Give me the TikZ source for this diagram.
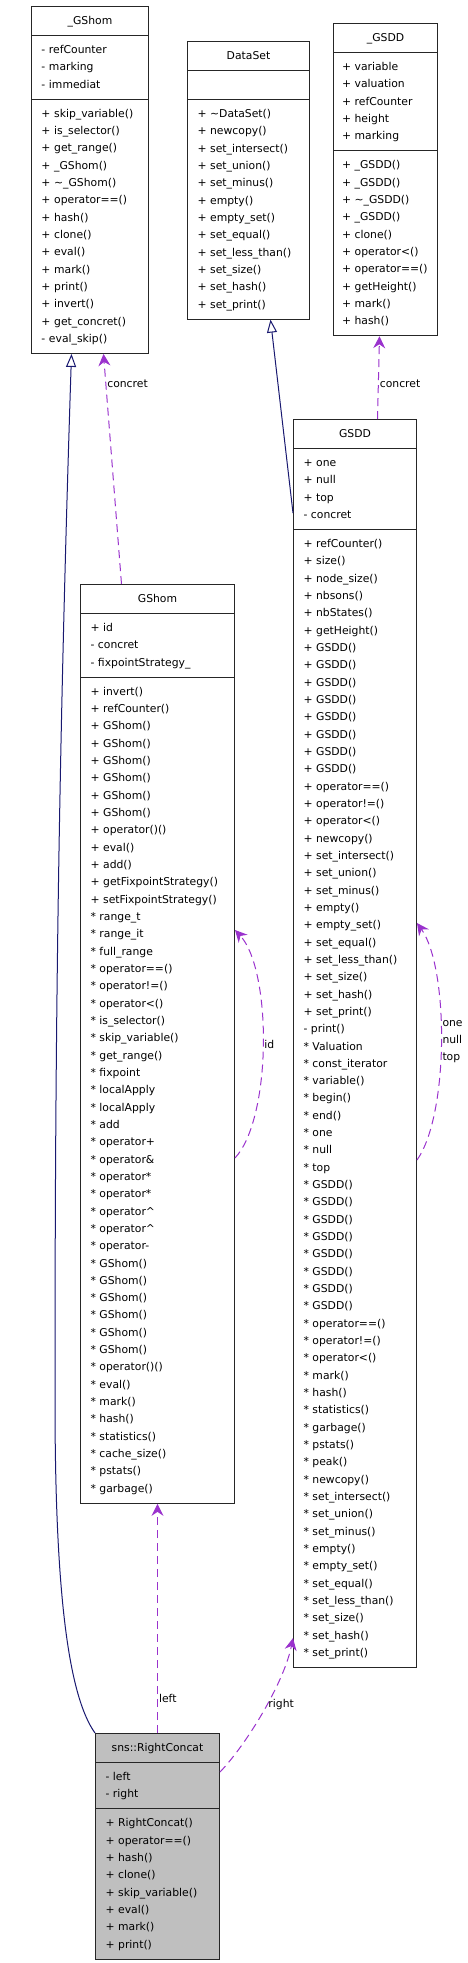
\documentclass[tikz,border=0pt]{standalone}
\usepackage{fontspec}
\setmainfont{DejaVu Sans}
\usepackage{tikz}
\usetikzlibrary{arrows.meta, shapes.multipart}

\definecolor{inhblue}{HTML}{191970}
\definecolor{usepurple}{HTML}{9A32CD}
\definecolor{boxgray}{HTML}{BFBFBF}
\newcommand\clsfont{\fontsize{10.8}{17.33}\selectfont}
\newcommand\mrow{\\\strut}
\newcommand\ctitle[1]{\makebox[\linewidth][c]{\strut#1}}
\hyphenpenalty=10000
\exhyphenpenalty=10000

\begin{document}
\begin{tikzpicture}[x=1pt, y=-1pt, font=\clsfont,
      cls/.style={draw=black!85, line width=1pt, fill=white, rectangle split,
        rectangle split parts=3, anchor=north west, inner xsep=10pt,
        inner ysep=5.33pt, align=left, font=\clsfont},
      inh/.style={draw=inhblue, line width=1pt,
        -{Triangle[open, length=13pt, width=10pt, fill=white]}},
      usage/.style={draw=usepurple, line width=1pt, dash pattern=on 8pt off 5pt,
        -{Stealth[length=12pt, width=12pt, inset=4pt]}},
      lbl/.style={anchor=west, inner sep=1pt, font=\clsfont}]
    \useasboundingbox (0,0) rectangle (467,1963);
    % base classes
    \node[cls, text width=97pt] (gbase) at (31,6) {\ctitle{\_GShom}
      \nodepart{two}\strut - refCounter\mrow - marking\mrow - immediat
      \nodepart{three}\strut + skip\_variable()\mrow + is\_selector()\mrow + get\_range()\mrow
      + \_GShom()\mrow + \textasciitilde\_GShom()\mrow + operator==()\mrow + hash()\mrow
      + clone()\mrow + eval()\mrow + mark()\mrow + print()\mrow + invert()\mrow
      + get\_concret()\mrow - eval\_skip()};
    \node[cls, text width=102pt] (dset) at (187,41) {\ctitle{DataSet}
      \nodepart{two}\strut
      \nodepart{three}\strut + \textasciitilde DataSet()\mrow + newcopy()\mrow + set\_intersect()\mrow
      + set\_union()\mrow + set\_minus()\mrow + empty()\mrow + empty\_set()\mrow
      + set\_equal()\mrow + set\_less\_than()\mrow + set\_size()\mrow + set\_hash()\mrow
      + set\_print()};
    \node[cls, text width=87pt, inner xsep=8.5pt] (gsddbase) at (333,23) {\ctitle{\_GSDD}
      \nodepart{two}\strut + variable\mrow + valuation\mrow + refCounter\mrow + height\mrow + marking
      \nodepart{three}\strut + \_GSDD()\mrow + \_GSDD()\mrow + \textasciitilde\_GSDD()\mrow + \_GSDD()\mrow
      + clone()\mrow + operator<()\mrow + operator==()\mrow + getHeight()\mrow + mark()\mrow
      + hash()};
    % used classes
    \node[cls, text width=134pt] (gshom) at (80,584) {\ctitle{GShom}
      \nodepart{two}\strut + id\mrow - concret\mrow - fixpointStrategy\_
      \nodepart{three}\strut + invert()\mrow + refCounter()\mrow + GShom()\mrow + GShom()\mrow
      + GShom()\mrow + GShom()\mrow + GShom()\mrow + GShom()\mrow + operator()()\mrow
      + eval()\mrow + add()\mrow + getFixpointStrategy()\mrow + setFixpointStrategy()\mrow
      * range\_t\mrow * range\_it\mrow * full\_range\mrow * operator==()\mrow
      * operator!=()\mrow * operator<()\mrow * is\_selector()\mrow * skip\_variable()\mrow
      * get\_range()\mrow * fixpoint\mrow * localApply\mrow * localApply\mrow * add\mrow
      * operator+\mrow * operator\&\mrow * operator*\mrow * operator*\mrow
      * operator\textasciicircum\mrow * operator\textasciicircum\mrow * operator-\mrow
      * GShom()\mrow * GShom()\mrow * GShom()\mrow * GShom()\mrow * GShom()\mrow
      * GShom()\mrow * operator()()\mrow * eval()\mrow * mark()\mrow * hash()\mrow
      * statistics()\mrow * cache\_size()\mrow * pstats()\mrow * garbage()};
    \node[cls, text width=103pt] (gsdd) at (293,419) {\ctitle{GSDD}
      \nodepart{two}\strut + one\mrow + null\mrow + top\mrow - concret
      \nodepart{three}\strut + refCounter()\mrow + size()\mrow + node\_size()\mrow + nbsons()\mrow
      + nbStates()\mrow + getHeight()\mrow + GSDD()\mrow + GSDD()\mrow + GSDD()\mrow
      + GSDD()\mrow + GSDD()\mrow + GSDD()\mrow + GSDD()\mrow + GSDD()\mrow
      + operator==()\mrow + operator!=()\mrow + operator<()\mrow + newcopy()\mrow
      + set\_intersect()\mrow + set\_union()\mrow + set\_minus()\mrow + empty()\mrow
      + empty\_set()\mrow + set\_equal()\mrow + set\_less\_than()\mrow + set\_size()\mrow
      + set\_hash()\mrow + set\_print()\mrow - print()\mrow * Valuation\mrow
      * const\_iterator\mrow * variable()\mrow * begin()\mrow * end()\mrow * one\mrow
      * null\mrow * top\mrow * GSDD()\mrow * GSDD()\mrow * GSDD()\mrow * GSDD()\mrow
      * GSDD()\mrow * GSDD()\mrow * GSDD()\mrow * GSDD()\mrow * operator==()\mrow
      * operator!=()\mrow * operator<()\mrow * mark()\mrow * hash()\mrow
      * statistics()\mrow * garbage()\mrow * pstats()\mrow * peak()\mrow * newcopy()\mrow
      * set\_intersect()\mrow * set\_union()\mrow * set\_minus()\mrow * empty()\mrow
      * empty\_set()\mrow * set\_equal()\mrow * set\_less\_than()\mrow * set\_size()\mrow
      * set\_hash()\mrow * set\_print()};
    \node[cls, fill=boxgray, text width=104pt] (rconcat) at (95,1733) {\ctitle{sns::RightConcat}
      \nodepart{two}\strut - left\mrow - right
      \nodepart{three}\strut + RightConcat()\mrow + operator==()\mrow + hash()\mrow + clone()\mrow
      + skip\_variable()\mrow + eval()\mrow + mark()\mrow + print()};
    % inheritance
    \draw[inh] (rconcat.north west) .. controls (68,1695) and (55,1590) .. (55,1400)
      .. controls (55,1100) and (57,800) .. ([xshift=-18.5pt]gbase.south);
    \draw[inh] ([yshift=-94pt]gsdd.north west) -- ([xshift=22pt]dset.south);
    % usage
    \draw[usage] ([xshift=-36pt]gshom.north) -- node[lbl, pos=.87]{concret} ([xshift=13.5pt]gbase.south);
    \draw[usage] ([xshift=22.5pt]gsdd.north) -- node[lbl, pos=.43]{concret} ([xshift=-6pt]gsddbase.south);
    \draw[usage] ([yshift=-574pt]gshom.north east) .. controls +(37,-40) and +(37,40)
      .. node[lbl, pos=.5]{id} ([yshift=-346pt]gshom.north east);
    \draw[usage] ([yshift=-741pt]gsdd.north east) .. controls +(32,-45) and +(32,45)
      .. node[lbl, pos=.5, align=left]{one\\null\\top} ([yshift=-504pt]gsdd.north east);
    \draw[usage] (rconcat.north) -- node[lbl, pos=.15]{left} (gshom.south);
    \draw[usage] ([yshift=-39pt]rconcat.north east) .. controls +(26,-27) and +(-9,45)
      .. node[lbl, pos=.55]{right} ([yshift=30pt]gsdd.south west);
  \end{tikzpicture}
\end{document}
